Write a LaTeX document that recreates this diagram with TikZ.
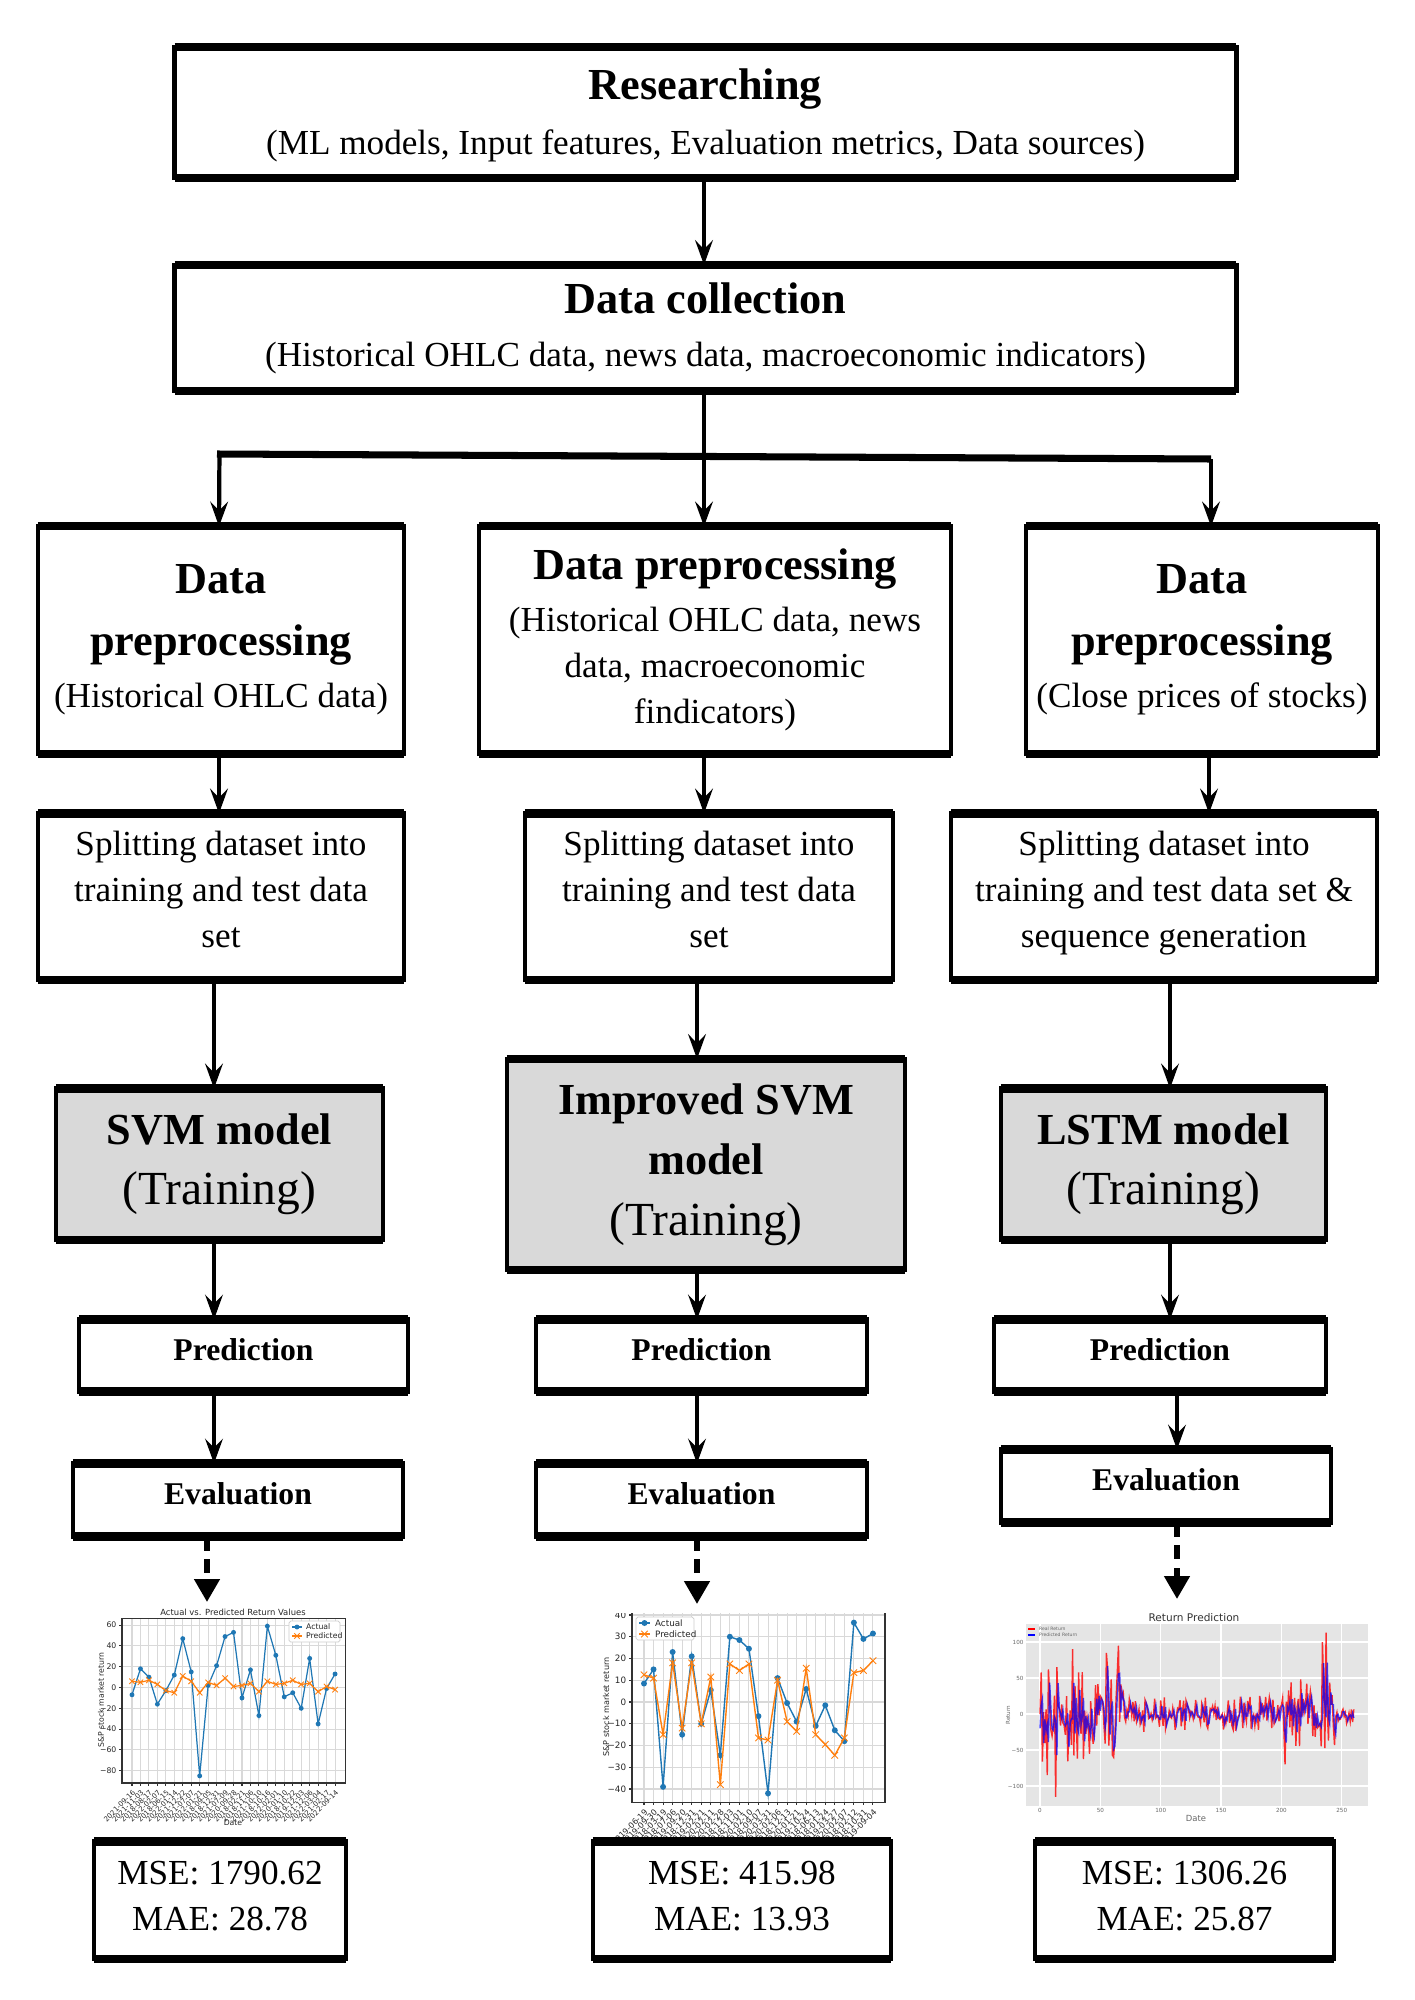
\documentclass[tikz,border=0pt]{standalone}
\usepackage{fontspec}
\setmainfont{Liberation Serif}
\newfontfamily\plotfont{DejaVu Sans}
\usetikzlibrary{arrows.meta,shapes.misc}

\definecolor{mplblue}{HTML}{1F77B4}
\definecolor{mplorange}{HTML}{FF7F0E}
\definecolor{modelgray}{gray}{0.85}
\definecolor{panelgray}{gray}{0.9}

\newcommand{\hd}{\fontsize{12.6}{15}\selectfont\bfseries}
\newcommand{\trn}{\fontsize{13.5}{17.2}\selectfont}
\newcommand{\txt}{\fontsize{10}{13.1}\selectfont}
\newcommand{\stephd}{\fontsize{9}{11}\selectfont\bfseries}

% plot data (index/value)
\def\svmact{0/-7,1/18,2/10,3/-16,4/-3,5/12,6/47,7/15,8/-85,9/2,10/21,11/49,12/53,13/-10,14/17,15/-27,16/59,17/31,18/-9,19/-5,20/-20,21/28,22/-35,23/-1,24/13}
\def\svmpred{0/6,1/5,2/7,3/3,4/-3,5/-5,6/11,7/6,8/-5,9/5,10/2,11/9,12/1,13/2,14/4,15/-4,16/6,17/3,18/4,19/7,20/3,21/4,22/-4,23/1,24/-2}
\def\isvmact{0/8.5,1/15,2/-39,3/23,4/-15,5/21,6/-10,7/5.5,8/-24.5,9/30,10/28.5,11/24.5,12/-6.5,13/-42,14/11,15/-0.5,16/-9,17/6,18/-11,19/-1.5,20/-13,21/-18,22/36.5,23/29,24/31.5}
\def\isvmpred{0/12.5,1/11,2/-15,3/18,4/-12,5/18,6/-10,7/11.5,8/-38,9/17.5,10/14.5,11/17.5,12/-16.5,13/-17.5,14/10,15/-9,16/-13.5,17/15.5,18/-15,19/-19.5,20/-24.5,21/-16.5,22/13.5,23/14.5,24/19}
\def\svmdates{0/2021-09-16,1/2021-11-03,2/2018-08-17,3/2022-02-07,4/2018-06-15,5/2022-01-14,6/2021-12-22,7/2021-07-07,8/2022-01-21,9/2018-09-05,10/2018-12-31,11/2021-07-09,12/2020-09-28,13/2018-02-21,14/2018-11-06,15/2021-10-10,16/2018-10-16,17/2022-02-01,18/2020-01-10,19/2018-10-22,20/2019-12-03,21/2021-12-06,22/2022-03-04,23/2021-02-17,24/2022-09-14}
\def\isvmdates{0/2019-06-19,1/2019-09-30,2/2018-03-19,3/2018-07-06,4/2019-09-20,5/2018-12-31,6/2019-02-21,7/2020-02-11,8/2020-02-28,9/2018-12-03,10/2018-11-01,11/2020-02-10,12/2018-09-07,13/2020-03-31,14/2020-02-06,15/2018-12-13,16/2020-01-21,17/2019-10-24,18/2018-06-13,19/2018-01-24,20/2019-03-27,21/2020-02-07,22/2018-02-12,23/2018-10-31,24/2019-09-04}

% LSTM return series
\foreach \i in {0,...,260}{
  \pgfmathsetmacro\amp{55*(\i<70)+21*(\i>=70)*(\i<190)+42*(\i>=190)*(\i<245)+13*(\i>=245)}
  \pgfmathsetmacro\rv{\amp*(0.75*sin(\the\numexpr\i*\i*53+\i*29-((\i*\i*53+\i*29)/360)*360\relax)+0.45*sin(\the\numexpr\i*137-(\i*137/360)*360\relax))}
  \expandafter\xdef\csname lr\i\endcsname{\rv}
}
\foreach \i/\s in {6/-85,7/62,13/-115,14/65,27/90,31/-62,55/85,61/-60,65/95,203/-70,233/-45,234/100,237/113}{
  \expandafter\xdef\csname lr\i\endcsname{\s}
}
\expandafter\xdef\csname lp0\endcsname{-20}
\foreach \i in {1,...,260}{
  \edef\j{\the\numexpr\i-1\relax}
  \pgfmathsetmacro\pv{0.62*\csname lr\j\endcsname+0.22*\csname lr\i\endcsname}
  \expandafter\xdef\csname lp\i\endcsname{\pv}
}

\tikzset{
  box/.style={draw, line width=1.3pt, outer sep=0pt, inner sep=0pt, align=center, font=\txt},
  model/.style={box, fill=modelgray, font=\trn},
  stepbox/.style={box, font=\stephd, text depth=3.5pt},
  edge/.style={line width=2.3pt},
  arr/.style={line width=1.2pt, -{Stealth[length=7pt, width=5pt, inset=2.5pt]}},
  dotarr/.style={line width=1.5pt, dash pattern=on 4pt off 2.5pt, -{Triangle[length=6.5pt, width=7pt]}},
  gridln/.style={draw=black!15, line width=0.3pt},
  axln/.style={draw=black!80, line width=0.3pt},
  ticklab/.style={font=\plotfont\fontsize{2.2}{2.6}\selectfont, inner sep=0.4pt, text=black!85},
  datelab/.style={ticklab, font=\plotfont\fontsize{2}{2.4}\selectfont, rotate=45, anchor=north east},
  bdot/.style={circle, fill=mplblue, inner sep=0pt, minimum size=1.4pt},
  oxx/.style={cross out, draw=mplorange, line width=0.25pt, inner sep=0pt, minimum size=1.3pt},
  lstmlab/.style={font=\plotfont\fontsize{1.6}{2}\selectfont, inner sep=0.4pt, text=black!60},
}

\begin{document}
\begin{tikzpicture}[x=0.01cm, y=-0.01cm]
  \useasboundingbox (0,0) rectangle (1414,2000);

  % top boxes
  \node[box, minimum width=10.61cm, minimum height=1.31cm] (res) at (705.5,112.5)
    {{\hd\rule{0pt}{10.5pt}Researching}\\[2.4pt] (ML models, Input features, Evaluation metrics, Data sources)};
  \node[box, minimum width=10.61cm, minimum height=1.26cm] (coll) at (705.5,328)
    {{\hd Data collection}\\[2pt] (Historical OHLC data, news data, macroeconomic indicators)};

  % preprocessing row
  \node[box, minimum width=3.66cm, minimum height=2.27cm] (dpl) at (221,640)
    {{\hd Data}\\[4.3pt] {\hd preprocessing}\\[1.8pt] (Historical OHLC data)};
  \node[box, minimum width=4.72cm, minimum height=2.27cm] (dpm) at (715,640)
    {{\hd Data preprocessing}\\[1.8pt] (Historical OHLC data, news\\ data, macroeconomic\\ findicators)};
  \node[box, minimum width=3.52cm, minimum height=2.27cm] (dpr) at (1202,640)
    {{\hd Data}\\[4.3pt] {\hd preprocessing}\\[1.8pt] (Close prices of stocks)};

  % splitting row
  \node[box, minimum width=3.66cm, minimum height=1.66cm] (spl) at (221,896.5)
    {Splitting dataset into\\ training and test data\\ set\strut};
  \node[box, minimum width=3.68cm, minimum height=1.66cm] (spm) at (709,896.5)
    {Splitting dataset into\\ training and test data\\ set\strut};
  \node[box, minimum width=4.26cm, minimum height=1.66cm] (spr) at (1164,896.5)
    {Splitting dataset into\\ training and test data set \&\\ sequence generation\strut};

  % models
  \node[model, minimum width=3.27cm, minimum height=1.51cm] (svm) at (219.5,1164)
    {{\hd SVM model}\\ (Training)};
  \node[model, minimum width=3.98cm, minimum height=2.11cm] (isvm) at (706,1164.5)
    {{\hd Improved SVM}\\ {\hd model}\\ (Training)};
  \node[model, minimum width=3.25cm, minimum height=1.51cm] (lstm) at (1163.5,1164)
    {{\hd LSTM model}\\ (Training)};

  % prediction and evaluation
  \node[stepbox, minimum width=3.29cm, minimum height=0.72cm] (predl) at (243.5,1355.5) {Prediction};
  \node[stepbox, minimum width=3.31cm, minimum height=0.72cm] (predm) at (701.5,1355.5) {Prediction};
  \node[stepbox, minimum width=3.32cm, minimum height=0.72cm] (predr) at (1160,1355.5) {Prediction};
  \node[stepbox, minimum width=3.30cm, minimum height=0.73cm] (evall) at (238,1500) {Evaluation};
  \node[stepbox, minimum width=3.31cm, minimum height=0.73cm] (evalm) at (701.5,1500) {Evaluation};
  \node[stepbox, minimum width=3.30cm, minimum height=0.73cm] (evalr) at (1166,1486) {Evaluation};

  % column lines for connectors
  \coordinate (cLa) at (219,0);
  \coordinate (cL) at (214,0);
  \coordinate (cLd) at (207,0);
  \coordinate (cMa) at (704,0);
  \coordinate (cM) at (697,0);
  \coordinate (cRa) at (1209,0);
  \coordinate (cR) at (1170,0);
  \coordinate (cRd) at (1177,0);
  \coordinate (barL) at (217,454);
  \coordinate (barR) at (1211,459);

  \draw[arr] (res.south -| cMa) -- (coll.north -| cMa);
  \draw[line width=2pt] (barL) -- (barR);
  \draw[arr] (coll.south -| cMa) -- (dpm.north -| cMa);
  \draw[arr] ([xshift=0.7pt]barL) -- (dpl.north -| cLa);
  \draw[arr] (barR) -- (dpr.north -| barR);

  \draw[arr] (dpl.south -| cLa) -- (spl.north -| cLa);
  \draw[arr] (dpm.south -| cMa) -- (spm.north -| cMa);
  \draw[arr] (dpr.south -| cRa) -- (spr.north -| cRa);

  \draw[arr] (spl.south -| cL) -- (svm.north -| cL);
  \draw[arr] (spm.south -| cM) -- (isvm.north -| cM);
  \draw[arr] (spr.south -| cR) -- (lstm.north -| cR);

  \draw[arr] (svm.south -| cL) -- (predl.north -| cL);
  \draw[arr] (isvm.south -| cM) -- (predm.north -| cM);
  \draw[arr] (lstm.south -| cR) -- (predr.north -| cR);

  \draw[arr] (predl.south -| cL) -- (evall.north -| cL);
  \draw[arr] (predm.south -| cM) -- (evalm.north -| cM);
  \draw[arr] (predr.south -| cRd) -- (evalr.north -| cRd);

  % ---- SVM plot ----
  \node[ticklab, font=\plotfont\fontsize{2.4}{2.8}\selectfont] (svmtitle) at (233,1612) {Actual vs. Predicted Return Values};
  \begin{scope}[shift={(132,1687.5)}, xscale=8.46, yscale=-1.04]
    \foreach \k in {0,...,24} \draw[gridln] (\k,-91.8) -- (\k,66.8);
    \foreach \v in {-80,-60,...,60} \draw[gridln] (-1.18,\v) -- (25.18,\v);
    \draw[axln] (-1.18,-91.8) rectangle (25.18,66.8);
    \foreach \k/\d in \svmdates {
      \draw[axln] (\k,-91.8) -- (\k,-94.7);
      \node[datelab] at (\k,-95.5) {\d};
    }
    \foreach \v/\t in {60/60,40/40,20/20,0/0,-20/−20,-40/−40,-60/−60,-80/−80} {
      \draw[axln] (-1.18,\v) -- (-1.53,\v);
      \node[ticklab, anchor=east] at (-1.6,\v) {\t};
    }
    \draw[mplblue, line width=0.35pt] (0,-7) \foreach \k/\v in \svmact { -- (\k,\v)};
    \foreach \k/\v in \svmact \node[bdot] at (\k,\v) {};
    \draw[mplorange, line width=0.35pt] (0,6) \foreach \k/\v in \svmpred { -- (\k,\v)};
    \foreach \k/\v in \svmpred \node[oxx] at (\k,\v) {};
  \end{scope}
  \node[ticklab, rotate=90] (svmylab) at (101,1700) {S\&P stock market return};
  \node[ticklab] (svmxlab) at (233,1823) {Date};
  \draw[draw=black!20, fill=white, line width=0.2pt, rounded corners=0.5pt] (289,1621) rectangle (340,1642);
  \draw[mplblue, line width=0.35pt] (292,1627) -- (302,1627);
  \node[bdot] at (297,1627) {};
  \node[ticklab, anchor=west] (svmleg1) at (304,1627) {Actual};
  \draw[mplorange, line width=0.35pt] (292,1636) -- (302,1636);
  \node[oxx] at (297,1636) {};
  \node[ticklab, anchor=west] (svmleg2) at (304,1636) {Predicted};

  % ---- improved SVM plot ----
  \begin{scope}
    \clip (560,1613) rectangle (900,1840);
    \begin{scope}[shift={(644,1702)}, xscale=9.54, yscale=-2.175]
      \foreach \k in {0,...,24} \draw[gridln] (\k,-46) -- (\k,41);
      \foreach \v in {-40,-30,...,40} \draw[gridln] (-1.26,\v) -- (25.26,\v);
      \draw[axln] (-1.26,-46) rectangle (25.26,41);
      \foreach \k/\d in \isvmdates {
        \draw[axln] (\k,-46) -- (\k,-47.4);
        \node[datelab, font=\plotfont\fontsize{2.3}{2.8}\selectfont] at (\k,-47.7) {\d};
      }
      \foreach \v/\t in {40/40,30/30,20/20,10/10,0/0,-10/−10,-20/−20,-30/−30,-40/−40} {
        \draw[axln] (-1.26,\v) -- (-1.6,\v);
        \node[ticklab, anchor=east, font=\plotfont\fontsize{2.5}{3}\selectfont] at (-1.65,\v) {\t};
      }
      \draw[mplblue, line width=0.4pt] (0,8.5) \foreach \k/\v in \isvmact { -- (\k,\v)};
      \foreach \k/\v in \isvmact \node[bdot, minimum size=1.7pt] at (\k,\v) {};
      \draw[mplorange, line width=0.4pt] (0,12.5) \foreach \k/\v in \isvmpred { -- (\k,\v)};
      \foreach \k/\v in \isvmpred \node[oxx, minimum size=1.6pt] at (\k,\v) {};
    \end{scope}
  \end{scope}
  \node[ticklab, rotate=90, font=\plotfont\fontsize{2.3}{2.8}\selectfont] (isvmylab) at (606,1707) {S\&P stock market return};
  \draw[draw=black!20, fill=white, line width=0.2pt, rounded corners=0.5pt] (636,1617) rectangle (694,1640);
  \draw[mplblue, line width=0.4pt] (639,1623) -- (650,1623);
  \node[bdot, minimum size=1.7pt] at (644.5,1623) {};
  \node[ticklab, anchor=west, font=\plotfont\fontsize{2.5}{3}\selectfont] (isvmleg1) at (653,1623) {Actual};
  \draw[mplorange, line width=0.4pt] (639,1634) -- (650,1634);
  \node[oxx, minimum size=1.6pt] at (644.5,1634) {};
  \node[ticklab, anchor=west, font=\plotfont\fontsize{2.5}{3}\selectfont] (isvmleg2) at (653,1634) {Predicted};

  % ---- LSTM plot ----
  \fill[panelgray] (1026,1624) rectangle (1368,1806);
  \node[ticklab, font=\plotfont\fontsize{3}{3.5}\selectfont, text=black!80] (lstmtitle) at (1194,1618) {Return Prediction};
  \begin{scope}
    \clip (1026,1624) rectangle (1368,1806);
    \begin{scope}[shift={(1040,1714)}, xscale=1.207, yscale=-0.72]
      \foreach \v in {-100,-50,...,100} \draw[white, line width=0.4pt] (-12,\v) -- (272,\v);
      \foreach \k in {0,50,...,250} \draw[white, line width=0.4pt] (\k,-128) -- (\k,125);
      \draw[red, opacity=0.8, line width=0.4pt] (0,\csname lr0\endcsname) \foreach \i in {1,...,260}{ -- (\i,\csname lr\i\endcsname)};
      \draw[blue, opacity=0.7, line width=0.4pt] (0,\csname lp0\endcsname) \foreach \i in {1,...,260}{ -- (\i,\csname lp\i\endcsname)};
    \end{scope}
  \end{scope}
  \begin{scope}[shift={(1040,1714)}, xscale=1.207, yscale=-0.72]
    \foreach \v/\t in {100/100,50/50,0/0,-50/−50,-100/−100} \node[lstmlab, anchor=east] at (-12,\v) {\t};
    \foreach \k in {0,50,...,250} \node[lstmlab, anchor=north] at (\k,-128) {\k};
  \end{scope}
  \node[lstmlab, rotate=90] (lstmylab) at (1008,1715) {Return};
  \node[lstmlab, font=\plotfont\fontsize{2.4}{2.8}\selectfont] (lstmxlab) at (1196,1818) {Date};
  \draw[red, line width=0.4pt] (1028,1629) -- (1035,1629);
  \node[lstmlab, anchor=west, font=\plotfont\fontsize{1.3}{1.6}\selectfont] (lstmleg1) at (1037,1629) {Real Return};
  \draw[blue, line width=0.4pt] (1028,1635) -- (1035,1635);
  \node[lstmlab, anchor=west, font=\plotfont\fontsize{1.3}{1.6}\selectfont] (lstmleg2) at (1037,1635) {Predicted Return};

  % dotted arrows to the plots
  \coordinate (plotL) at (207,1602);
  \coordinate (plotM) at (697,1604);
  \coordinate (plotR) at (1177,1599);
  \draw[dotarr] (evall.south -| cLd) -- (plotL);
  \draw[dotarr] (evalm.south -| cM) -- (plotM);
  \draw[dotarr] (evalr.south -| cRd) -- (plotR);

  % metric boxes
  \node[box, fill=white, minimum width=2.52cm, minimum height=1.17cm] (msel) at (220,1900) {MSE: 1790.62\\ MAE: 28.78\rule[-2.2pt]{0pt}{0pt}};
  \node[box, fill=white, minimum width=2.98cm, minimum height=1.17cm] (msem) at (742,1900) {MSE: 415.98\\ MAE: 13.93\rule[-2.2pt]{0pt}{0pt}};
  \node[box, fill=white, minimum width=2.99cm, minimum height=1.17cm] (mser) at (1184.5,1900) {MSE: 1306.26\\ MAE: 25.87\rule[-2.2pt]{0pt}{0pt}};

  % heavier top and bottom borders
  \foreach \n in {res,coll,dpl,dpm,dpr,spl,spm,spr,svm,isvm,lstm,predl,predm,predr,evall,evalm,evalr,msel,msem,mser}{
    \draw[edge] (\n.north west) -- (\n.north east);
    \draw[edge] (\n.south west) -- (\n.south east);
  }
\end{tikzpicture}
\end{document}
